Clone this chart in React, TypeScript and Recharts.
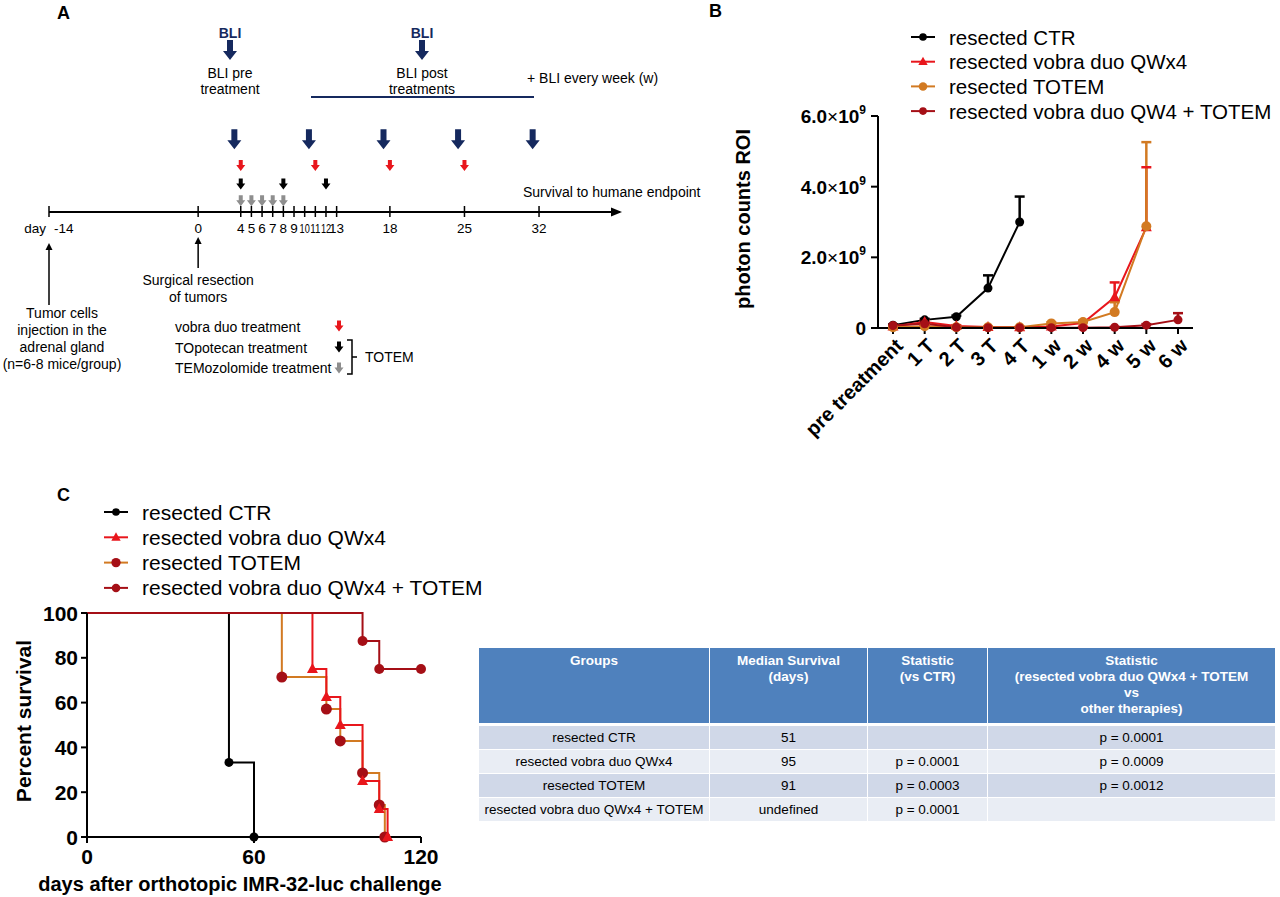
import React from "react";
import { LineChart, Line, XAxis, YAxis, ErrorBar, ScatterChart, Scatter } from "recharts";

const SANS = "'Liberation Sans', Arial, Helvetica, sans-serif";

const NAVY = "#15295e";
const BLACK = "#000000";
const RED = "#e8161c";
const ORANGE = "#d27a22";
const DARKRED = "#a50f16";
const GREY = "#8e8e8e";

// ---------- A: schedule (days from surgical resection) ----------
const scheduleTicks = [-14, 0, 4, 5, 6, 7, 8, 9, 10, 11, 12, 13, 18, 25, 32];
const bliDays = [3.4, 10.4, 17.4, 24.4, 31.4];
const vobraDays = [4, 11, 18, 25];
const topotecanDays = [4, 8, 12];
const temozolomideDays = [4, 5, 6, 7, 8];
const eventDays = [-14, 0];
const eventLabels = [
  ["Tumor cells", "injection in the", "adrenal gland", "(n=6-8 mice/group)"],
  ["Surgical resection", "of tumors"],
];
const treatmentNames = ["vobra duo treatment", "TOpotecan treatment", "TEMozolomide treatment"];

// ---------- B: BLI photon counts (x10^9) ----------
const bliTimepoints = ["pre treatment", "1 T", "2 T", "3 T", "4 T", "1 w", "2 w", "4 w", "5 w", "6 w"];
const ctrBli = [0.08, 0.23, 0.32, 1.13, 3.0, null, null, null, null, null];
const ctrBliErr = [0.02, 0.03, 0.03, 0.36, 0.72, null, null, null, null, null];
const vobraBli = [0.04, 0.17, 0.06, 0.03, 0.02, 0.04, 0.14, 0.87, 2.85, null];
const vobraBliErr = [0.02, 0.04, 0.02, 0.01, 0.01, 0.02, 0.03, 0.42, 1.7, null];
const totemBli = [0.02, 0.05, 0.02, 0.02, 0.02, 0.13, 0.17, 0.45, 2.88, null];
const totemBliErr = [0.01, 0.02, 0.01, 0.01, 0.01, 0.03, 0.04, 0.28, 2.38, null];
const comboBli = [0.07, 0.12, 0.02, 0.01, 0.01, 0.01, 0.01, 0.02, 0.08, 0.23];
const comboBliErr = [0.02, 0.03, 0.01, 0.005, 0.005, 0.005, 0.005, 0.01, 0.03, 0.19];
const bliTicks = [0, 2e9, 4e9, 6e9];
const bliNames = ["resected CTR", "resected vobra duo QWx4", "resected TOTEM", "resected vobra duo QW4 + TOTEM"];

// ---------- C: Kaplan-Meier ----------
const ctrDays = [0, 51, 60];
const ctrSurv = [100, 33.3, 0];
const vobraDays2 = [0, 81, 86, 91, 99, 105, 108];
const vobraSurv = [100, 75, 62.5, 50, 25, 12.5, 0];
const totemDays = [0, 70, 86, 91, 99, 105, 107];
const totemSurv = [100, 71.4, 57.1, 42.9, 28.6, 14.3, 0];
const comboDays = [0, 99, 105, 120];
const comboSurv = [100, 87.5, 75, 75];
const kmNames = ["resected CTR", "resected vobra duo QWx4", "resected TOTEM", "resected vobra duo QWx4 + TOTEM"];

// ---------- table ----------
const tableHeaders = [
  ["Groups"],
  ["Median Survival", "(days)"],
  ["Statistic", "(vs CTR)"],
  ["Statistic", "(resected vobra duo QWx4 + TOTEM", "vs", "other therapies)"],
];
const tableGroups = ["resected CTR", "resected vobra duo QWx4", "resected TOTEM", "resected vobra duo QWx4 + TOTEM"];
const tableMedian = ["51", "95", "91", "undefined"];
const tableVsCtr = ["", "p = 0.0001", "p = 0.0003", "p = 0.0001"];
const tableVsCombo = ["p = 0.0001", "p = 0.0009", "p = 0.0012", ""];

// ---------- styles ----------
const bliStyles = [
  { key: "ctr", color: BLACK, dotColor: BLACK, marker: "circle", r: 4.5 },
  { key: "vobra", color: RED, dotColor: RED, marker: "triangle", r: 5.5 },
  { key: "totem", color: ORANGE, dotColor: ORANGE, marker: "circle", r: 5 },
  { key: "combo", color: DARKRED, dotColor: DARKRED, marker: "circle", r: 4.5 },
];
const kmStyles = [
  { color: BLACK, dotColor: BLACK, marker: "circle", r: 4.5 },
  { color: RED, dotColor: RED, marker: "triangle", r: 5.5 },
  { color: ORANGE, dotColor: DARKRED, marker: "circle", r: 5.5 },
  { color: DARKRED, dotColor: DARKRED, marker: "circle", r: 5 },
];

function marker(kind: string, cx: number, cy: number, r: number, color: string, key?: any) {
  if (kind === "triangle") {
    const h = r * 1.8;
    return (
      <path key={key} d={`M${cx},${cy - h * 0.6} L${cx + r},${cy + h * 0.4} L${cx - r},${cy + h * 0.4} Z`} fill={color} />
    );
  }
  return <circle key={key} cx={cx} cy={cy} r={r} fill={color} />;
}

function arrowPath(cx: number, cy: number, h: number, shaftW: number, headW: number, headH: number) {
  const top = cy - h / 2;
  const bot = cy + h / 2;
  const neck = bot - headH;
  return `M${cx - shaftW / 2},${top} L${cx + shaftW / 2},${top} L${cx + shaftW / 2},${neck} L${cx + headW / 2},${neck} L${cx},${bot} L${cx - headW / 2},${neck} L${cx - shaftW / 2},${neck} Z`;
}

const bigArrow = (cx: number, cy: number, color: string) => (
  <path d={arrowPath(cx, cy, 20, 6, 14, 9)} fill={color} />
);
const smallArrow = (cx: number, cy: number, color: string) => (
  <path d={arrowPath(cx, cy, 11, 4, 9, 6)} fill={color} />
);

// lanes of the schedule chart (y units, 16 px each above the time axis)
const lanes = { bli: 4.55, vobra: 2.9, topotecan: 1.75, temozolomide: 0.7, event: 0 };

const eventLayout = [
  { tip: 31, base: 93, dx: 13, text: 101, step: 17 },
  { tip: 25, base: 56, dx: 0, text: 68, step: 17 },
];

function ScheduleTick({ x, y, payload }: any) {
  const v = payload.value;
  const fs = 13.5;
  const squeeze = v >= 10 && v <= 12;
  return (
    <g>
      <line x1={x} x2={x} y1={y - 6} y2={y + 5} stroke="#000" strokeWidth={1.5} />
      {v === -14 ? (
        <>
          <text x={x - 3} y={y + 16} textAnchor="end" fontFamily={SANS} fontSize={fs} dominantBaseline="central">day</text>
          <text x={x + 5} y={y + 16} textAnchor="start" fontFamily={SANS} fontSize={fs} dominantBaseline="central">-14</text>
        </>
      ) : squeeze ? (
        <text x={x - 5.1} y={y + 16} textLength={10.2} lengthAdjust="spacingAndGlyphs" fontFamily={SANS} fontSize={fs} dominantBaseline="central">{v}</text>
      ) : (
        <text x={x} y={y + 16} textAnchor="middle" fontFamily={SANS} fontSize={fs} dominantBaseline="central">{v}</text>
      )}
    </g>
  );
}

function EventShape(props: any) {
  const { cx, cy, index } = props;
  const l = eventLayout[index];
  return (
    <g>
      <line x1={cx} x2={cx} y1={cy + l.base} y2={cy + l.tip + 5} stroke="#000" strokeWidth={1.5} />
      <path d={`M${cx - 3.5},${cy + l.tip + 7} L${cx},${cy + l.tip} L${cx + 3.5},${cy + l.tip + 7} Z`} fill="#000" />
      {eventLabels[index].map((t, i) => (
        <text key={i} x={cx + l.dx} y={cy + l.text + i * l.step} textAnchor="middle" fontFamily={SANS} fontSize={14} dominantBaseline="central">
          {t}
        </text>
      ))}
    </g>
  );
}

function BliYTick({ x, y, payload }: any) {
  const v = payload.value;
  return (
    <text x={x} y={y} dy="0.36em" textAnchor="end" fontFamily={SANS} fontWeight={700} fontSize={19} fill="#000">
      {v === 0 ? "0" : (
        <>
          {(v / 1e9).toFixed(1)}
          <tspan fontWeight={400}>×</tspan>10
          <tspan fontSize={12} dy={-9}>9</tspan>
        </>
      )}
    </text>
  );
}

function BliXTick({ x, y, payload }: any) {
  return (
    <text transform={`translate(${x + 6},${y + 8}) rotate(-45)`} textAnchor="end" dy="0.36em" fontFamily={SANS} fontWeight={700} fontSize={20} fill="#000">
      {payload.value}
    </text>
  );
}

function KmTick({ x, y, payload, anchor }: any) {
  return (
    <text x={x} y={y} dy={anchor === "end" ? "0.36em" : "0.72em"} textAnchor={anchor} fontFamily={SANS} fontWeight={700} fontSize={21} fill="#000">
      {payload.value}
    </text>
  );
}

// mean with one-sided (upper) SEM: stem from the mean, cap drawn at mean + SEM
const bliData = bliTimepoints.map((t, i) => {
  const row: any = { t };
  const add = (key: string, vals: (number | null)[], errs: (number | null)[]) => {
    const v = vals[i];
    const e = errs[i];
    row[key] = v == null ? null : v * 1e9;
    row[`${key}Err`] = v == null || e == null ? null : [0, e * 1e9];
    row[`${key}Hi`] = v == null || e == null ? null : (v + e) * 1e9;
  };
  add("ctr", ctrBli, ctrBliErr);
  add("vobra", vobraBli, vobraBliErr);
  add("totem", totemBli, totemBliErr);
  add("combo", comboBli, comboBliErr);
  return row;
});

const toKm = (days: number[], surv: number[]) => days.map((d, i) => ({ day: d, pct: surv[i] }));
const kmSeries = [toKm(ctrDays, ctrSurv), toKm(vobraDays2, vobraSurv), toKm(totemDays, totemSurv), toKm(comboDays, comboSurv)];

const toLane = (days: number[], lane: number) => days.map((d) => ({ day: d, lane }));

function LegendRows({ names, styles, x, y0, step, fs }: any) {
  return (
    <g>
      {names.map((n: string, i: number) => {
        const y = y0 + i * step;
        const s = styles[i];
        return (
          <g key={n}>
            <line x1={x} x2={x + 24} y1={y} y2={y} stroke={s.color} strokeWidth={2} />
            {marker(s.marker, x + 12, y, s.r * 0.85, s.dotColor)}
            <text x={x + 38} y={y} dominantBaseline="central" fontFamily={SANS} fontSize={fs} fill="#000">{n}</text>
          </g>
        );
      })}
    </g>
  );
}

export default function App() {
  const t14 = { fontFamily: SANS, fontSize: 14 } as any;
  return (
    <div style={{ position: "absolute", left: 0, top: 0, width: 1280, height: 897, background: "#fff", fontFamily: SANS }}>
      {/* A: schedule */}
      <div style={{ position: "absolute", left: 0, top: 0 }}>
        <ScatterChart width={640} height={440} margin={{ top: 0, right: 20, bottom: 0, left: 49 }}>
          <XAxis
            type="number"
            dataKey="day"
            domain={[-14, 39.6]}
            ticks={scheduleTicks}
            interval={0}
            height={228}
            tickSize={0}
            tickMargin={0}
            tickLine={false}
            axisLine={{ stroke: "#000", strokeWidth: 1.8 }}
            tick={<ScheduleTick />}
          />
          <YAxis type="number" dataKey="lane" domain={[0, 13.25]} hide width={0} />
          <Scatter data={toLane(bliDays, lanes.bli)} isAnimationActive={false} shape={(p: any) => bigArrow(p.cx, p.cy, NAVY)} />
          <Scatter data={toLane(vobraDays, lanes.vobra)} isAnimationActive={false} shape={(p: any) => smallArrow(p.cx, p.cy, RED)} />
          <Scatter data={toLane(topotecanDays, lanes.topotecan)} isAnimationActive={false} shape={(p: any) => smallArrow(p.cx, p.cy, BLACK)} />
          <Scatter data={toLane(temozolomideDays, lanes.temozolomide)} isAnimationActive={false} shape={(p: any) => smallArrow(p.cx, p.cy, GREY)} />
          <Scatter data={toLane(eventDays, lanes.event)} isAnimationActive={false} shape={(p: any) => <EventShape {...p} />} />
        </ScatterChart>
      </div>

      {/* B: BLI */}
      <div style={{ position: "absolute", left: 700, top: 0 }}>
        <LineChart width={580} height={460} data={bliData} margin={{ top: 116, right: 87, bottom: 0, left: 0 }}>
          <XAxis
            dataKey="t"
            interval={0}
            height={132}
            padding={{ left: 15, right: 15 }}
            tickSize={6}
            tickMargin={0}
            axisLine={{ stroke: "#000", strokeWidth: 2 }}
            tickLine={{ stroke: "#000", strokeWidth: 2 }}
            tick={<BliXTick />}
          />
          <YAxis
            type="number"
            domain={[0, 6e9]}
            ticks={bliTicks}
            width={178}
            tickSize={7}
            tickMargin={5}
            axisLine={{ stroke: "#000", strokeWidth: 2 }}
            tickLine={{ stroke: "#000", strokeWidth: 2 }}
            tick={<BliYTick />}
          />
          {bliStyles.map((s) => (
            <Line
              key={`${s.key}-cap`}
              dataKey={`${s.key}Hi`}
              stroke="none"
              isAnimationActive={false}
              activeDot={false}
              legendType="none"
              dot={(p: any) =>
                p.value == null || p.cx == null ? (
                  <g key={`${s.key}-cap-${p.index}`} />
                ) : (
                  <line key={`${s.key}-cap-${p.index}`} x1={p.cx - 5} x2={p.cx + 5} y1={p.cy} y2={p.cy} stroke={s.color} strokeWidth={2.5} />
                )
              }
            />
          ))}
          {bliStyles.map((s) => (
            <Line
              key={s.key}
              dataKey={s.key}
              stroke={s.color}
              strokeWidth={2}
              isAnimationActive={false}
              dot={(p: any) => (p.value == null || p.cx == null ? <g key={`${s.key}-${p.index}`} /> : marker(s.marker, p.cx, p.cy, s.r, s.dotColor, `${s.key}-${p.index}`))}
              activeDot={false}
            >
              <ErrorBar dataKey={`${s.key}Err`} direction="y" width={0} strokeWidth={2.5} stroke={s.color} />
            </Line>
          ))}
        </LineChart>
      </div>

      {/* C: survival */}
      <div style={{ position: "absolute", left: 0, top: 590 }}>
        <LineChart width={460} height={307} margin={{ top: 23, right: 39, bottom: 0, left: 0 }}>
          <XAxis
            type="number"
            dataKey="day"
            domain={[0, 120]}
            ticks={[0, 60, 120]}
            interval={0}
            height={60}
            tickSize={6}
            tickMargin={6}
            axisLine={{ stroke: "#000", strokeWidth: 2 }}
            tickLine={{ stroke: "#000", strokeWidth: 2 }}
            tick={<KmTick anchor="middle" />}
          />
          <YAxis
            type="number"
            dataKey="pct"
            domain={[0, 100]}
            ticks={[0, 20, 40, 60, 80, 100]}
            width={87}
            tickSize={6}
            tickMargin={3}
            axisLine={{ stroke: "#000", strokeWidth: 2 }}
            tickLine={{ stroke: "#000", strokeWidth: 2 }}
            tick={<KmTick anchor="end" />}
          />
          {[0, 2, 1, 3].map((i) => (
            <Line
              key={kmNames[i]}
              data={kmSeries[i]}
              dataKey="pct"
              type="stepAfter"
              stroke={kmStyles[i].color}
              strokeWidth={2}
              isAnimationActive={false}
              activeDot={false}
              dot={(p: any) => (p.index === 0 || p.cx == null ? <g key={`k${i}-${p.index}`} /> : marker(kmStyles[i].marker, p.cx, p.cy, kmStyles[i].r, kmStyles[i].dotColor, `k${i}-${p.index}`))}
            />
          ))}
        </LineChart>
      </div>

      {/* table */}
      <table
        style={{
          position: "absolute", left: 478, top: 648, width: 797, borderCollapse: "collapse", tableLayout: "fixed",
          fontFamily: SANS, fontSize: 13.5, textAlign: "center",
        }}
      >
        <colgroup>
          {[231, 158, 120, 288].map((w, i) => <col key={i} style={{ width: w }} />)}
        </colgroup>
        <thead>
          <tr>
            {tableHeaders.map((h, i) => (
              <th key={i} style={{ background: "#4f81bd", color: "#fff", height: 70, verticalAlign: "top", padding: "5px 0 0 0", lineHeight: "16px", border: "1.5px solid #fff", borderTop: "none", borderBottomWidth: 3, fontWeight: 700 }}>
                {h.map((l, j) => <div key={j}>{l}</div>)}
              </th>
            ))}
          </tr>
        </thead>
        <tbody>
          {tableGroups.map((g, r) => (
            <tr key={g} style={{ background: r % 2 === 0 ? "#d0d8e8" : "#e9edf4" }}>
              {[g, tableMedian[r], tableVsCtr[r], tableVsCombo[r]].map((c, i) => (
                <td key={i} style={{ height: 23, padding: 0, lineHeight: "23px", border: "1.5px solid #fff", color: "#000" }}>{c}</td>
              ))}
            </tr>
          ))}
        </tbody>
      </table>

      {/* annotations */}
      <svg width={1280} height={897} style={{ position: "absolute", left: 0, top: 0, pointerEvents: "none" }}>
        {/* panel letters */}
        <text x={57} y={13} dominantBaseline="central" fontFamily={SANS} fontWeight={700} fontSize={18}>A</text>
        <text x={709} y={11} dominantBaseline="central" fontFamily={SANS} fontWeight={700} fontSize={18}>B</text>
        <text x={57} y={495} dominantBaseline="central" fontFamily={SANS} fontWeight={700} fontSize={18}>C</text>

        {/* A header */}
        <text x={230} y={33} textAnchor="middle" dominantBaseline="central" fontFamily={SANS} fontWeight={700} fontSize={14} fill={NAVY}>BLI</text>
        {bigArrow(230, 50, NAVY)}
        <text x={230} y={73} textAnchor="middle" dominantBaseline="central" {...t14}>BLI pre</text>
        <text x={230} y={89} textAnchor="middle" dominantBaseline="central" {...t14}>treatment</text>
        <text x={422} y={33} textAnchor="middle" dominantBaseline="central" fontFamily={SANS} fontWeight={700} fontSize={14} fill={NAVY}>BLI</text>
        {bigArrow(422, 50, NAVY)}
        <text x={422} y={73} textAnchor="middle" dominantBaseline="central" {...t14}>BLI post</text>
        <text x={422} y={89} textAnchor="middle" dominantBaseline="central" {...t14}>treatments</text>
        <line x1={311} x2={534} y1={97} y2={97} stroke={NAVY} strokeWidth={2} />
        <text x={527} y={78} dominantBaseline="central" {...t14}>+ BLI every week (w)</text>
        <text x={523} y={192} dominantBaseline="central" {...t14}>Survival to humane endpoint</text>
        <path d="M611,207.5 L622,212 L611,216.5 Z" fill="#000" />

        {/* A legend */}
        {treatmentNames.map((n, i) => (
          <text key={n} x={175} y={327 + i * 20.5} dominantBaseline="central" {...t14}>{n}</text>
        ))}
        {smallArrow(339, 326, RED)}
        {smallArrow(339, 347, BLACK)}
        {smallArrow(339, 368, GREY)}
        <path d="M347,340 L352,340 L352,374 L347,374 M352,357 L357,357" stroke="#000" strokeWidth={1.5} fill="none" />
        <text x={365} y={357} dominantBaseline="central" {...t14}>TOTEM</text>

        {/* B */}
        <LegendRows names={bliNames} styles={bliStyles} x={911} y0={37} step={24.7} fs={20.5} />
        <text transform="translate(750,219) rotate(-90)" textAnchor="middle" fontFamily={SANS} fontWeight={700} fontSize={20}>photon counts ROI</text>

        {/* C */}
        <LegendRows names={kmNames} styles={kmStyles} x={104} y0={512} step={25.3} fs={21} />
        <text transform="translate(31,721) rotate(-90)" textAnchor="middle" fontFamily={SANS} fontWeight={700} fontSize={21}>Percent survival</text>
        <text x={240} y={884} textAnchor="middle" dominantBaseline="central" fontFamily={SANS} fontWeight={700} fontSize={20}>days after orthotopic IMR-32-luc challenge</text>
      </svg>
    </div>
  );
}
